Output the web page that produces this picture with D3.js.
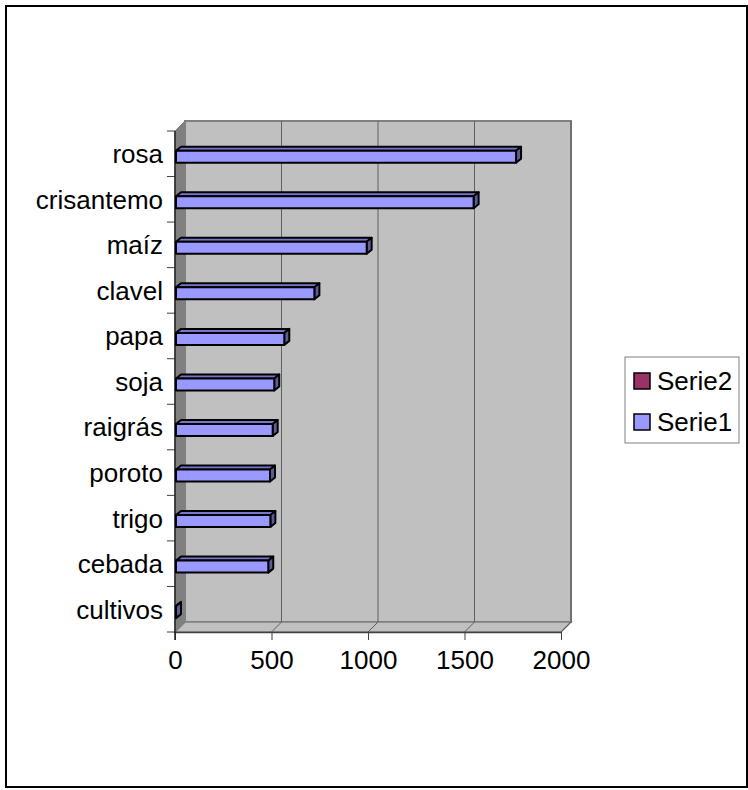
<!DOCTYPE html>
<html>
<head>
<meta charset="utf-8">
<script src="https://cdn.jsdelivr.net/npm/d3@7"></script>
<style>
  body { margin: 0; background: #fff; }
  text { font-family: "Liberation Sans", Arial, sans-serif; fill: #000; }
</style>
</head>
<body>
<div id="chart"></div>
<script>
const width = 748
const height = 790

// data
const categories = ["rosa", "crisantemo", "maíz", "clavel", "papa", "soja", "raigrás", "poroto", "trigo", "cebada", "cultivos"]
const serie1 = [1762, 1542, 988, 717, 561, 509, 501, 487, 489, 478, 0]
const xTicks = [0, 500, 1000, 1500, 2000]
const legendNames = ["Serie2", "Serie1"]
const legendColors = ["#993366", "#9999ff"]

const plot = { left: 175, right: 561, top: 131, bottom: 632 }
const depth = { dx: 10, dy: -10 }
const bar = { off: 19.7, h: 12, dx: 5, dy: -4 }
const fontSize = 26

const svg = d3.select("div#chart").append("svg").attr("width", width).attr("height", height)

// outer frame
svg.append("rect").attr("x", 6).attr("y", 6).attr("width", 741).attr("height", 781)
    .attr("fill", "#fff").attr("stroke", "#000").attr("stroke-width", 2)

const x = d3.scaleLinear().domain([0, 2000]).range([plot.left, plot.right])
const y = d3.scaleBand().domain(categories).range([plot.top, plot.bottom]).padding(0)

const walls = svg.append("g").attr("class", "walls")
const pts = p => p.map(d => d.join(",")).join(" ")

// back wall
walls.append("rect")
    .attr("x", plot.left + depth.dx).attr("y", plot.top + depth.dy)
    .attr("width", plot.right - plot.left).attr("height", plot.bottom - plot.top)
    .attr("fill", "#c0c0c0").attr("stroke", "#808080").attr("stroke-width", 2)

// left wall
walls.append("polygon")
    .attr("points", pts([[plot.left, plot.top], [plot.left + depth.dx, plot.top + depth.dy],
        [plot.left + depth.dx, plot.bottom + depth.dy], [plot.left, plot.bottom]]))
    .attr("fill", "#808080").attr("stroke", "#808080")

// floor
walls.append("polygon")
    .attr("points", pts([[plot.left, plot.bottom], [plot.left + depth.dx, plot.bottom + depth.dy],
        [plot.right + depth.dx, plot.bottom + depth.dy], [plot.right, plot.bottom]]))
    .attr("fill", "#c0c0c0").attr("stroke", "#808080").attr("stroke-width", 1.5)

// gridlines on floor and back wall
walls.selectAll("path.grid").data(xTicks.slice(1)).enter().append("path")
    .attr("class", "grid")
    .attr("d", d => `M${x(d)},${plot.bottom} L${x(d) + depth.dx},${plot.bottom + depth.dy} L${x(d) + depth.dx},${plot.top + depth.dy}`)
    .attr("fill", "none").attr("stroke", "#606060").attr("stroke-width", 1)

// axes
const xAxis = d3.axisBottom(x).tickValues(xTicks).tickFormat(d3.format("d"))
    .tickSize(8).tickPadding(11).tickSizeOuter(0)
const xAxisGroup = svg.append("g").attr("transform", `translate(0, ${plot.bottom})`).call(xAxis)
xAxisGroup.select(".domain").attr("stroke", "#404040").attr("stroke-width", 1.5)
xAxisGroup.selectAll(".tick line").attr("stroke", "#404040")
xAxisGroup.selectAll("text").attr("font-size", fontSize).attr("font-family", null).attr("fill", "#000")

const yAxis = d3.axisLeft(y).tickSize(0).tickPadding(12)
const yAxisGroup = svg.append("g").attr("transform", `translate(${plot.left}, 0)`).call(yAxis)
yAxisGroup.select(".domain").remove()
yAxisGroup.selectAll("text").attr("font-size", fontSize).attr("font-family", null).attr("fill", "#000").attr("dy", "0.36em")

// band boundary ticks and vertical axis line
const bounds = categories.map(c => y(c)).concat([plot.bottom])
svg.append("g").selectAll("line").data(bounds).enter().append("line")
    .attr("x1", plot.left - 8).attr("x2", plot.left).attr("y1", d => d).attr("y2", d => d)
    .attr("stroke", "#404040")
svg.append("line").attr("x1", plot.left).attr("x2", plot.left)
    .attr("y1", plot.top).attr("y2", plot.bottom + 8).attr("stroke", "#202020").attr("stroke-width", 1.5)

// 3d bars
const bars = svg.append("g").attr("class", "bars")
    .attr("stroke", "#000").attr("stroke-width", 2).attr("stroke-linejoin", "round")
const data = categories.map((c, i) => ({ c, v: serie1[i] }))
const g = bars.selectAll("g").data(data).enter().append("g")

g.append("polygon")
    .attr("points", d => {
        const x0 = x(0) + 1, x1 = x(d.v) + 1, t = y(d.c) + bar.off
        return pts([[x0, t], [x0 + bar.dx, t + bar.dy], [x1 + bar.dx, t + bar.dy], [x1, t]])
    })
    .attr("fill", "#7777cc")
g.append("polygon")
    .attr("points", d => {
        const x1 = x(d.v) + 1, t = y(d.c) + bar.off
        return pts([[x1, t], [x1 + bar.dx, t + bar.dy], [x1 + bar.dx, t + bar.dy + bar.h], [x1, t + bar.h]])
    })
    .attr("fill", "#5c5c99")
g.append("rect")
    .attr("x", x(0) + 1).attr("y", d => y(d.c) + bar.off)
    .attr("width", d => x(d.v) - x(0)).attr("height", bar.h)
    .attr("fill", "#9999ff")

// legend
const legend = svg.append("g").attr("class", "legend")
legend.append("rect").attr("x", 625).attr("y", 357).attr("width", 114).attr("height", 86)
    .attr("fill", "#fff").attr("stroke", "#808080")
const items = legend.selectAll("g").data(legendNames).enter().append("g")
    .attr("transform", (d, i) => `translate(634, ${373 + i * 41})`)
items.append("rect").attr("width", 16).attr("height", 16)
    .attr("fill", (d, i) => legendColors[i]).attr("stroke", "#000").attr("stroke-width", 1.5)
items.append("text").attr("x", 23).attr("y", 8).attr("dy", "0.36em")
    .attr("font-size", fontSize).text(d => d)
</script>
</body>
</html>
